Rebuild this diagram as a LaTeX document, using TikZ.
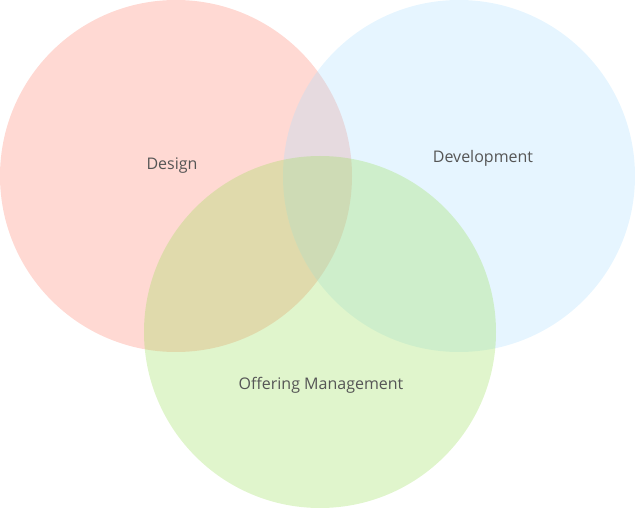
\documentclass[tikz,border=0pt]{standalone}
\usepackage{fontspec}
\setmainfont{Open Sans}
\usepackage{tikz}
\usetikzlibrary{positioning}
\definecolor{Rose}{HTML}{FF806C}
\definecolor{Sky}{HTML}{ACDEFE}
\definecolor{Lime}{HTML}{98DE55}
\definecolor{Ink}{HTML}{555555}

\begin{document}
\begin{tikzpicture}[x=1pt,y=1pt,
  area/.style={circle,fill opacity=0.3,minimum size=352pt,inner sep=0pt},
  tag/.style={text=Ink,font=\fontsize{16}{18}\selectfont}]
  \useasboundingbox (0,0) rectangle (635,509);
  \node[area,fill=Rose] (design) at (176,333) {};
  \node[area,fill=Sky] (develop) at (459,333) {};
  \node[area,fill=Lime] (offer) at (320,177) {};
  \node[tag] (designtag) at (172,343) {Design};
  \node[tag] (developtag) at (483,351) {Development};
  \node[tag] (offertag) at (321,124) {Offering Management};
\end{tikzpicture}
\end{document}
